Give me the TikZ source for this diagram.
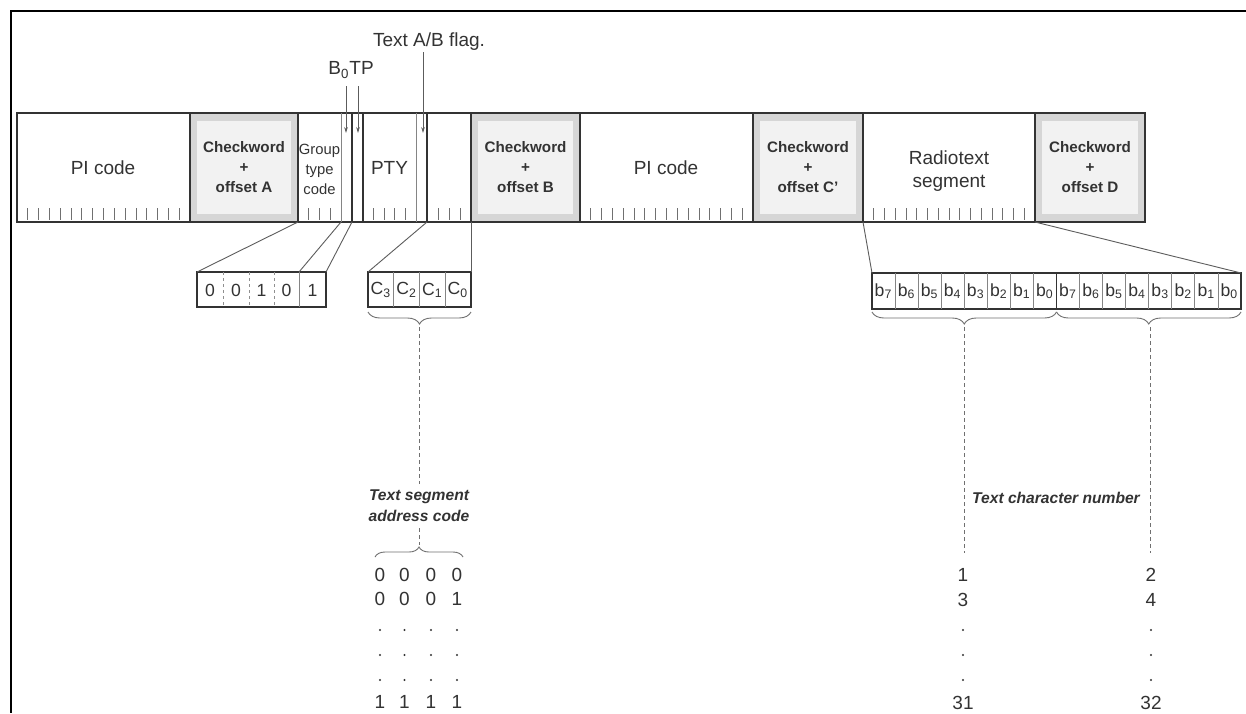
\documentclass[tikz,border=0pt]{standalone}
\usepackage{fontspec}
\setmainfont{Liberation Sans}
\usetikzlibrary{arrows.meta,decorations.pathreplacing}
\definecolor{ink}{gray}{0.2}
\definecolor{cwout}{gray}{0.84}
\definecolor{cwin}{gray}{0.95}
\begin{document}
\begin{tikzpicture}[x=0.5pt,y=-0.5pt,
  frameline/.style={draw=black,line width=1.4pt},
  blk/.style={draw=ink,line width=0.7pt},
  thinline/.style={draw=ink!60,line width=0.4pt},
  ticks/.style={draw=ink!70,line width=0.4pt},
  fan/.style={draw=ink!80,line width=0.45pt},
  arr/.style={draw=ink!80,line width=0.45pt,-{Stealth[length=3pt,width=1.8pt]}},
  dsh/.style={draw=ink!70,line width=0.5pt,dash pattern=on 2pt off 1.5pt},
  sep/.style={draw=ink!55,line width=0.4pt,dash pattern=on 1.5pt off 1.5pt},
  brc/.style={draw=ink!70,line width=0.45pt,decorate},
  lbl/.style={text=ink,font=\fontsize{9.5}{11.5}\selectfont,align=center,inner sep=0pt},
  small/.style={text=ink,font=\fontsize{7.4}{10}\selectfont,align=center,inner sep=0pt},
  cw/.style={text=ink,font=\bfseries\fontsize{7.6}{10}\selectfont,align=center,inner sep=0pt},
  ital/.style={text=ink,font=\bfseries\itshape\fontsize{7.8}{10.5}\selectfont,align=center,inner sep=0pt},
  bit/.style={text=ink,font=\fontsize{8.8}{10}\selectfont,inner sep=0pt},
  num/.style={text=ink,font=\fontsize{9.5}{10}\selectfont,inner sep=0pt}
]
\useasboundingbox (0,0) rectangle (1246,713);
\fill[white] (0,0) rectangle (1246,713);
% frame
\coordinate (ftl) at (11,11);
\coordinate (ftr) at (1246,11);
\coordinate (fbl) at (11,713);
\draw[frameline] (ftr) -- (ftl) -- (fbl);

% checkword shading
\foreach \a/\b in {190/298,471/580,753/863,1035/1145}{
  \fill[cwout] (\a,113) rectangle (\b,222);
  \fill[cwin] ({\a+7},121) rectangle ({\b-7},214);
}
% ticks
\foreach \k in {1,...,15}{
  \draw[ticks] ({17+\k*10.8125},208) -- ({17+\k*10.8125},220);
  \draw[ticks] ({580+\k*10.8125},208) -- ({580+\k*10.8125},220);
  \draw[ticks] ({863+\k*10.75},208) -- ({863+\k*10.75},220);
}
\foreach \k in {1,2,3}{
  \draw[ticks] ({298+\k*10.75},208) -- ({298+\k*10.75},220);
  \draw[ticks] ({427+\k*11},208) -- ({427+\k*11},220);
}
\foreach \k in {1,...,4}{
  \draw[ticks] ({363+\k*10.6},208) -- ({363+\k*10.6},220);
}
% block outline and dividers
\draw[blk] (17,113) rectangle (1145,222);
\foreach \x in {190,298,352,363,427,471,580,753,863,1035}{
  \draw[blk] (\x,113) -- (\x,222);
}
\foreach \x in {341,416}{
  \draw[thinline] (\x,113) -- (\x,222);
}
% block texts
\node[lbl] (pi1) at (103,168) {PI code};
\node[cw] (cwa) at (244,167) {Checkword\\+\\offset A};
\node[small] (gtc) at (319.5,169) {Group\\type\\code};
\node[lbl] (pty) at (389.5,168) {PTY};
\node[cw] (cwb) at (525.5,167) {Checkword\\+\\offset B};
\node[lbl] (pi2) at (666,168) {PI code};
\node[cw] (cwc) at (808,167) {Checkword\\+\\offset C'};
\node[lbl] (rts) at (949,171) {Radiotext\\segment};
\node[cw] (cwd) at (1090,167) {Checkword\\+\\offset D};

% top labels and arrows
\node[lbl] (botp) at (351,70) {B\textsubscript{0}TP};
\node[lbl] (abflag) at (429,42) {Text A/B flag.};
\coordinate (b0s) at (346,86);  \coordinate (b0e) at (346,133);
\coordinate (tps) at (358,86);  \coordinate (tpe) at (358,133);
\coordinate (abs) at (423,52);  \coordinate (abe) at (423,133);
\draw[arr] (b0s) -- (b0e);
\draw[arr] (tps) -- (tpe);
\draw[arr] (abs) -- (abe);

% group type code box
\draw[blk] (197,272) rectangle (326,307);
\foreach \x in {223,249,274}{ \draw[sep] (\x,272) -- (\x,307); }
\draw[thinline] (299,272) -- (299,307);
\foreach \x/\t in {210/0,236/0,261.5/1,286.5/0,312.5/1}{
  \node[bit] at (\x,290) {\t};
}
\coordinate (g1a) at (298,222); \coordinate (g1b) at (197,272);
\coordinate (g2a) at (341,222); \coordinate (g2b) at (299,272);
\coordinate (g3a) at (352,222); \coordinate (g3b) at (326,272);
\draw[fan] (g1a) -- (g1b);
\draw[fan] (g2a) -- (g2b);
\draw[fan] (g3a) -- (g3b);

% C box
\draw[blk] (368,272) rectangle (471,307);
\foreach \x in {393.75,419.5,445.25}{ \draw[thinline] (\x,272) -- (\x,307); }
\foreach \x/\t in {381/3,406.6/2,432.4/1,458/0}{
  \node[bit] at (\x,290) {C\textsubscript{\t}};
}
\coordinate (c1a) at (427,222); \coordinate (c1b) at (368,272);
\coordinate (c2a) at (471,222); \coordinate (c2b) at (471,272);
\draw[fan] (c1a) -- (c1b);
\draw[fan] (c2a) -- (c2b);
\coordinate (cbl) at (368,312); \coordinate (cbr) at (471,312);
\draw[brc,decoration={brace,mirror,amplitude=6pt}] (cbl) -- (cbr);

% bits box
\draw[blk] (872,273) rectangle (1241,309);
\foreach \k in {1,...,15}{ \draw[thinline] ({872+\k*23.0625},273) -- ({872+\k*23.0625},309); }
\draw[blk] (1056.5,273) -- (1056.5,309);
\foreach \k/\t in {0/7,1/6,2/5,3/4,4/3,5/2,6/1,7/0}{
  \node[bit] at ({872+(\k+0.5)*23.0625},291) {b\textsubscript{\t}};
  \node[bit] at ({1056.5+(\k+0.5)*23.0625},291) {b\textsubscript{\t}};
}
\coordinate (r1a) at (863,222); \coordinate (r1b) at (872,273);
\coordinate (r2a) at (1035,222); \coordinate (r2b) at (1241,273);
\draw[fan] (r1a) -- (r1b);
\draw[fan] (r2a) -- (r2b);
\coordinate (bb1) at (872,312); \coordinate (bbm) at (1056.5,312); \coordinate (bb2) at (1241,312);
\draw[brc,decoration={brace,mirror,amplitude=6pt}] (bb1) -- (bbm);
\draw[brc,decoration={brace,mirror,amplitude=6pt}] (bbm) -- (bb2);

% text segment address code
\node[ital] (tsac) at (419,506) {Text segment\\address code};
\coordinate (d1a) at (419,327); \coordinate (d1b) at (419,484);
\coordinate (d2a) at (419,528); \coordinate (d2b) at (419,545);
\draw[dsh] (d1a) -- (d1b);
\draw[dsh] (d2a) -- (d2b);
\coordinate (ab1) at (375,557); \coordinate (ab2) at (463,557);
\draw[brc,decoration={brace,amplitude=5pt}] (ab1) -- (ab2);
\foreach \x/\i in {380/1,404.5/2,431/3,457/4}{
  \node[num] (r0\i) at (\x,575) {0};
  \fill[ink] (\x,630) circle (0.6pt);
  \fill[ink] (\x,655) circle (0.6pt);
  \fill[ink] (\x,680) circle (0.6pt);
  \node[num] (r2\i) at (\x,702) {1};
}
\foreach \x/\i/\t in {380/1/0,404.5/2/0,431/3/0,457/4/1}{
  \node[num] (r1\i) at (\x,599) {\t};
}

% text character number
\node[ital] (tcn) at (1056,498) {Text character number};
\coordinate (e1a) at (964,327); \coordinate (e1b) at (964,553);
\coordinate (e2a) at (1150,327); \coordinate (e2b) at (1150,553);
\draw[dsh] (e1a) -- (e1b);
\draw[dsh] (e2a) -- (e2b);
\node[num] (n1) at (963,575) {1};
\node[num] (n2) at (1151,575) {2};
\node[num] (n3) at (963,600) {3};
\node[num] (n4) at (1151,600) {4};
\foreach \x in {963,1151}{
  \fill[ink] (\x,630) circle (0.6pt);
  \fill[ink] (\x,655) circle (0.6pt);
  \fill[ink] (\x,680) circle (0.6pt);
}
\node[num] (n31) at (963,703) {31};
\node[num] (n32) at (1151,703) {32};
\end{tikzpicture}
\end{document}
